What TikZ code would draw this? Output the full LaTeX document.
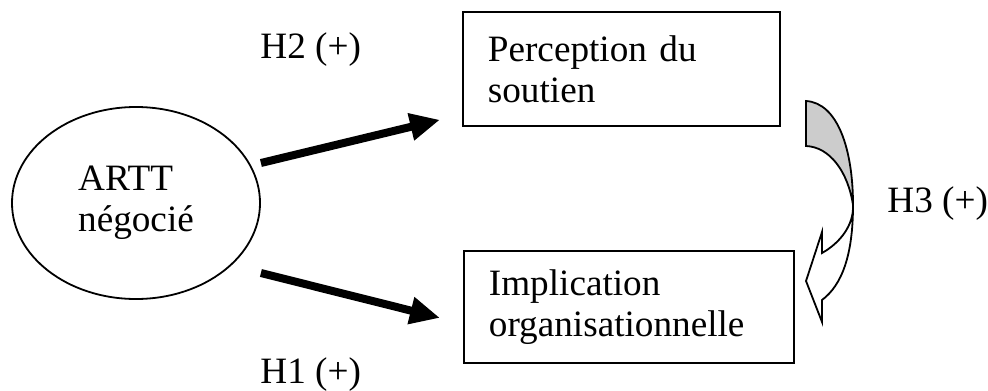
\documentclass[tikz,border=0pt]{standalone}
\usepackage{fontspec}
\setmainfont{Liberation Serif}
\usetikzlibrary{arrows.meta,shapes.geometric}

\begin{document}
\begin{tikzpicture}[x=0.5pt,y=-0.5pt,>={Triangle[length=15pt,width=13pt]},
  every node/.style={font=\fontsize{18.6pt}{20.5pt}\selectfont},
  box/.style={draw,line width=0.9pt,rectangle,align=left,inner xsep=12.5pt,anchor=north west},
  hyp/.style={anchor=base west,inner sep=0pt},
  link/.style={->,line width=4pt}]
\useasboundingbox (0,0) rectangle (988,390);
\node[draw,ellipse,line width=0.9pt,minimum width=124pt,minimum height=96pt,align=left] (artt) at (136,203) {ARTT\\négocié};
\node[box,minimum width=158.5pt,minimum height=57pt,text width=133.5pt] (soutien) at (462,11) {Perception du\\soutien};
\node[box,minimum width=165pt,minimum height=56pt,text width=140pt] (impl) at (463,250) {Implication\\organisationnelle};
\node[hyp] (h2) at (260,59) {H2 (+)};
\node[hyp] (h1) at (260,383) {H1 (+)};
\node[hyp] (h3) at (887,212) {H3 (+)};
\draw[link] ([shift={(0,-40)}]artt.east) -- ([shift={(-22,-7)}]soutien.south west);
\draw[link] ([shift={(0,70)}]artt.east) -- ([shift={(-23,11)}]impl.west);
% curved arrow H3
\filldraw[fill=gray!40,line width=0.9pt] (806,101) .. controls (838,103) and (853,150) .. (853,205) .. controls (848,172) and (830,147) .. (806,146) -- cycle;
\filldraw[fill=white,line width=0.9pt] (853,205) .. controls (853,255) and (842,285) .. (822,300) -- (822,322) -- (806,281) -- (822,232) -- (822,253) .. controls (840,243) and (854,225) .. (853,205) -- cycle;
\end{tikzpicture}
\end{document}
